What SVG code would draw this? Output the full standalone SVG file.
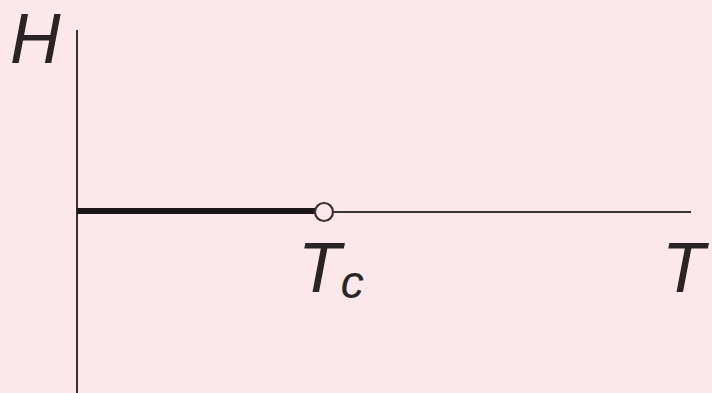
<svg xmlns="http://www.w3.org/2000/svg" width="712" height="393" viewBox="0 0 712 393">
<style>
.ax{stroke:#3a3436;stroke-width:2;fill:none}
.lbl{font-family:"Liberation Sans","DejaVu Sans",sans-serif;font-style:italic;fill:#2a2426}
</style>
<rect width="712" height="393" fill="#fce7ea"/>
<g id="connectors">
<line class="ax" x1="77" y1="30" x2="77" y2="393"/>
<line class="ax" x1="77" y1="212" x2="691" y2="212"/>
<line x1="77" y1="211" x2="315" y2="211" stroke="#1a1618" stroke-width="6"/>
</g>
<g id="tc-point"><circle cx="324" cy="212" r="9" fill="#fce7ea" stroke="#3a3436" stroke-width="2.2"/></g>
<g id="label-H"><text class="lbl" x="10" y="63" font-size="70">H</text></g>
<g id="label-Tc"><text class="lbl" x="298" y="292" font-size="70">T<tspan font-size="46" dy="6">c</tspan></text></g>
<g id="label-T"><text class="lbl" x="662" y="292" font-size="70">T</text></g>
</svg>
